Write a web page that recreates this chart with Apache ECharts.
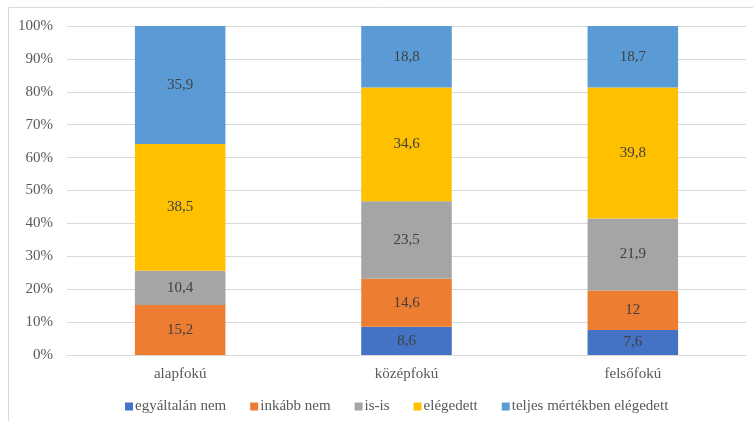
<!DOCTYPE html>
<html>
<head>
<meta charset="utf-8">
<script src="https://cdn.jsdelivr.net/npm/echarts@6/dist/echarts.min.js"></script>
<style>
  html, body { margin: 0; padding: 0; background: #fff; }
  #chart { width: 753px; height: 421px; }
</style>
</head>
<body>
<div id="chart"></div>
<script>
// kategóriák
const categories = ['alapfokú', 'középfokú', 'felsőfokú']
const seriesNames = ['egyáltalán nem', 'inkább nem', 'is-is', 'elégedett', 'teljes mértékben elégedett']
const colors = ['#4472C4', '#ED7D31', '#A5A5A5', '#FFC000', '#5B9BD5']

// értékek (%)
const egyaltalanNem = [0, 8.6, 7.6]
const inkabbNem = [15.2, 14.6, 12]
const isIs = [10.4, 23.5, 21.9]
const elegedett = [38.5, 34.6, 39.8]
const teljesen = [35.9, 18.8, 18.7]

const yTicks = [0, 10, 20, 30, 40, 50, 60, 70, 80, 90, 100]

const font = '"Liberation Serif", "Times New Roman", serif'
const values = [egyaltalanNem, inkabbNem, isIs, elegedett, teljesen]

const chart = echarts.init(document.getElementById('chart'))
chart.setOption({
    animation: false,
    textStyle: { fontFamily: font },
    graphic: [{
        type: 'rect',
        shape: { x: 8.5, y: 7.5, width: 900, height: 600 },
        style: { fill: 'none', stroke: '#d9d9d9', lineWidth: 1 },
        silent: true
    }],
    grid: { left: 67, right: 7, top: 26, bottom: 66 },
    legend: {
        bottom: 2,
        left: 120,
        itemWidth: 8,
        itemHeight: 8,
        itemGap: 24,
        icon: 'rect',
        textStyle: { fontFamily: font, fontSize: 15, color: '#595959', padding: [0, 0, 0, -3] },
        data: seriesNames
    },
    xAxis: {
        type: 'category',
        data: categories,
        axisLine: { lineStyle: { color: '#d9d9d9', width: 1 } },
        axisTick: { show: false },
        axisLabel: { fontFamily: font, fontSize: 15, color: '#595959', margin: 12 }
    },
    yAxis: {
        type: 'value',
        min: yTicks[0],
        max: yTicks[yTicks.length - 1],
        interval: 10,
        axisLine: { show: false },
        axisTick: { show: false },
        axisLabel: { fontFamily: font, fontSize: 15, color: '#595959', margin: 14, formatter: '{value}%' },
        splitLine: { lineStyle: { color: '#d9d9d9', width: 1 } }
    },
    series: seriesNames.map((name, i) => ({
        name,
        type: 'bar',
        stack: 'total',
        barWidth: '40%',
        itemStyle: { color: colors[i] },
        label: {
            show: true,
            position: 'inside',
            fontFamily: font,
            fontSize: 15,
            color: '#404040',
            formatter: p => p.value ? String(p.value).replace('.', ',') : ''
        },
        data: values[i]
    }))
})
</script>
</body>
</html>
